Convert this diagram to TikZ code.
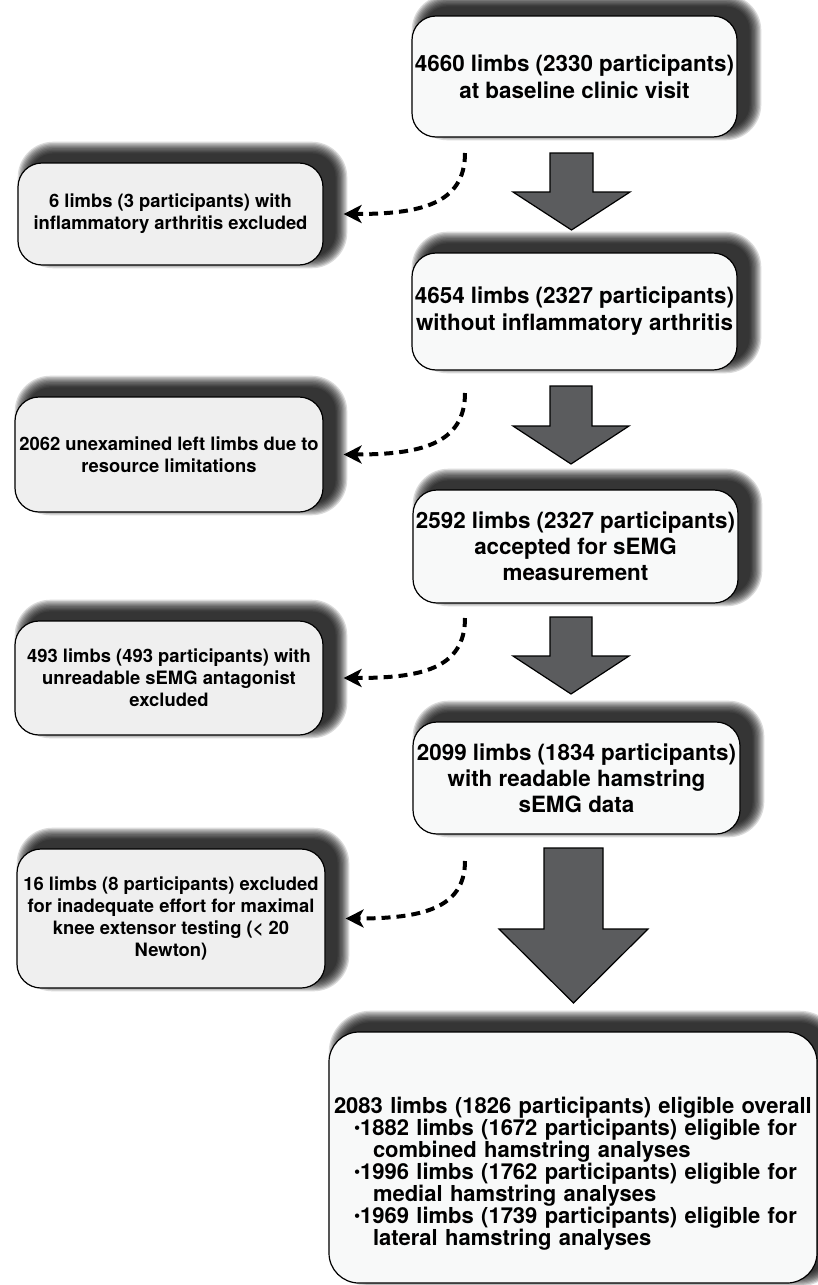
\documentclass[tikz,border=0pt]{standalone}
\usepackage{fontspec}
\setmainfont{TeX Gyre Heros}
\usetikzlibrary{arrows.meta,calc,backgrounds}
\definecolor{mainfill}{HTML}{F8F9F9}
\definecolor{sidefill}{HTML}{EFEFEF}
\definecolor{arrowgray}{HTML}{5B5C5E}
\newcommand{\softshadow}[2]{%
  \foreach \k in {0,...,9}{%
    \pgfmathsetmacro\rr{#2+\k*0.65}%
    \fill[black, opacity=0.14, rounded corners=\rr pt]
      ($(#1.south west)+({12-\k*1.3},{-9+\k*1.3})$) rectangle
      ($(#1.north east)+({12+\k*1.3},{-9-\k*1.3})$);
  }}
\newcommand{\blockarrow}[6]{%
  \draw[blockarrow] ({#1-#5},#2) -- ({#1+#5},#2) -- ({#1+#5},#3) -- ({#1+#6},#3)
    -- (#1,#4) -- ({#1-#6},#3) -- ({#1-#5},#3) -- cycle;}
\newcommand{\smbullet}{\raisebox{0.8pt}{\scalebox{0.8}{•}}}
\newcommand{\tightlines}{\lineskiplimit=-10pt\relax\parindent=0pt\relax}
\newcommand{\bline}[2]{\mbox{\hspace*{#1}#2}}
\begin{document}
\begin{tikzpicture}[x=0.5pt,y=-0.5pt,
  mainbox/.style={draw=black, line width=0.6pt, fill=mainfill, rounded corners=12pt,
    align=center, inner sep=1pt, font=\fontsize{11.2}{13}\selectfont\bfseries},
  sidebox/.style={draw=black, line width=0.6pt, fill=sidefill, rounded corners=12pt,
    align=center, inner sep=1pt, font=\fontsize{9.2}{11}\selectfont\bfseries},
  dashconn/.style={line width=2pt, dash pattern=on 4.5pt off 3pt,
    -{Stealth[length=9pt,width=9pt,inset=2.5pt]}, shorten >=10pt},
  blockarrow/.style={fill=arrowgray, draw=black, line width=0.6pt, line join=miter}]
\useasboundingbox (0,0) rectangle (818,1285);

% main boxes
\node[mainbox, minimum width=162.5pt, minimum height=60.5pt,
  font=\fontsize{11.2}{13.5}\selectfont\bfseries] (b1) at (574.5,76.5)
  {4660 limbs (2330 participants)\\at baseline clinic visit};
\node[mainbox, minimum width=162.5pt, minimum height=58.5pt,
  font=\fontsize{11.2}{13.5}\selectfont\bfseries] (b2) at (574.5,311.5)
  {4654 limbs (2327 participants)\\without inflammatory arthritis};
\node[mainbox, minimum width=162.5pt, minimum height=56.5pt] (b3) at (575.5,546.5)
  {2592 limbs (2327 participants)\\accepted for sEMG\\measurement};
\node[mainbox, minimum width=163.5pt, minimum height=56pt] (b4) at (576.5,778)
  {2099 limbs (1834 participants)\\with readable hamstring\\sEMG data};
\node[mainbox, minimum height=125.5pt, rounded corners=15pt, text width=242pt,
  align=left, font=\fontsize{11}{11}\selectfont\bfseries\tightlines] (b5) at (573,1157.5)
  {\noindent\bline{1.5pt}{\rule{0pt}{24pt}2083 limbs (1826 participants) eligible overall}\\
   \bline{11.5pt}{\smbullet 1882 limbs (1672 participants) eligible for}\\
   \bline{21pt}{combined hamstring analyses}\\
   \bline{11.5pt}{\smbullet 1996 limbs (1762 participants) eligible for}\\
   \bline{21pt}{medial hamstring analyses}\\
   \bline{11.5pt}{\smbullet 1969 limbs (1739 participants) eligible for}\\
   \bline{21pt}{lateral hamstring analyses}};

% side boxes
\node[sidebox, minimum width=152.5pt, minimum height=51pt] (s1) at (170.5,214)
  {6 limbs (3 participants) with\\inflammatory arthritis excluded};
\node[sidebox, minimum width=154pt, minimum height=57.5pt] (s2) at (169,454.5)
  {2062 unexamined left limbs due to\\resource limitations};
\node[sidebox, minimum width=154pt, minimum height=57pt] (s3) at (169,678)
  {493 limbs (493 participants) with\\unreadable sEMG antagonist\\excluded};
\node[sidebox, minimum width=154pt, minimum height=69.5pt] (s4) at (171,918.5)
  {16 limbs (8 participants) excluded\\for inadequate effort for maximal\\knee extensor testing (< 20\\Newton)};

% shadows and background
\begin{pgfonlayer}{background}
  \fill[white] (0,0) rectangle (818,1285);
  \softshadow{b1}{12}
  \softshadow{b2}{12}
  \softshadow{b3}{12}
  \softshadow{b4}{12}
  \softshadow{b5}{15}
  \softshadow{s1}{12}
  \softshadow{s2}{12}
  \softshadow{s3}{12}
  \softshadow{s4}{12}
\end{pgfonlayer}

% block arrows
\blockarrow{571.5}{153}{192}{230}{21.5}{58.5}
\blockarrow{571}{386}{426}{464}{21}{58}
\blockarrow{571}{617}{656}{694}{21}{58}
\blockarrow{573.5}{848}{929}{1003}{29.5}{74.5}

% dashed exclusion connectors
\coordinate (d1) at (465,153);
\coordinate (d2) at (465,393);
\coordinate (d3) at (465,618);
\coordinate (d4) at (465,861);
\draw[dashconn] (d1) .. controls ($(d1)+(0,52)$) and ($(s1.east)+(95,0)$) .. (s1.east);
\draw[dashconn] (d2) .. controls ($(d2)+(0,52)$) and ($(s2.east)+(95,0)$) .. (s2.east);
\draw[dashconn] (d3) .. controls ($(d3)+(0,52)$) and ($(s3.east)+(95,0)$) .. (s3.east);
\draw[dashconn] (d4) .. controls ($(d4)+(0,48)$) and ($(s4.east)+(95,0)$) .. (s4.east);
\end{tikzpicture}
\end{document}
